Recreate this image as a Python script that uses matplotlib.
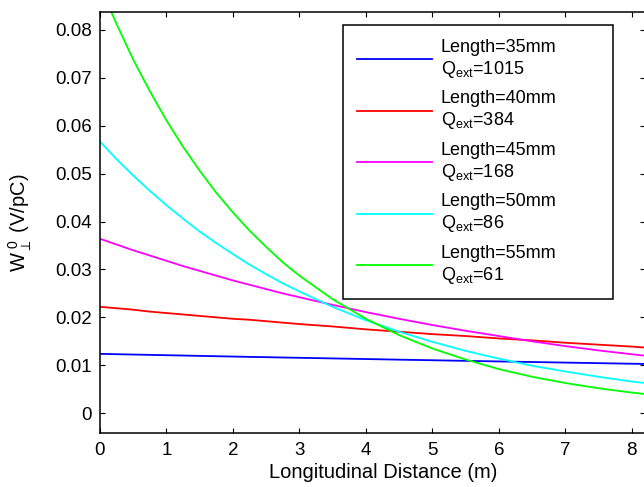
import matplotlib
matplotlib.use("Agg")
import matplotlib.pyplot as plt

plt.rcParams["font.family"] = ["Liberation Sans", "DejaVu Sans"]
plt.rcParams["mathtext.fontset"] = "custom"
plt.rcParams["mathtext.rm"] = "Liberation Sans"
plt.rcParams["mathtext.it"] = "Liberation Sans"

# Longitudinal distance (m)
distance = [0, 0.25, 0.5, 0.75, 1.0, 1.25, 1.5, 1.75, 2.0, 2.25, 2.5, 2.75, 3.0,
            3.5, 4.0, 4.5, 5.0, 5.5, 6.0, 6.5, 7.0, 7.5, 8.0, 8.2]

# Wake potential (V/pC)
w_35mm = [0.01238, 0.01231, 0.01224, 0.01217, 0.01210, 0.01203, 0.01196, 0.01189,
          0.01182, 0.01175, 0.01169, 0.01162, 0.01156, 0.01143, 0.01130, 0.01117,
          0.01105, 0.01092, 0.01080, 0.01068, 0.01056, 0.01044, 0.01032, 0.01028]
w_40mm = [0.0222, 0.0219, 0.0216, 0.0212, 0.0209, 0.0206, 0.0203, 0.0200, 0.0197,
          0.0195, 0.0192, 0.0189, 0.0186, 0.0181, 0.0175, 0.0170, 0.0165, 0.0161,
          0.0156, 0.0152, 0.0147, 0.0143, 0.0139, 0.0137]
w_45mm = [0.0364, 0.0352, 0.0340, 0.0329, 0.0318, 0.0307, 0.0297, 0.0287, 0.0277,
          0.0268, 0.0259, 0.0250, 0.0242, 0.0226, 0.0211, 0.0197, 0.0184, 0.0172,
          0.0161, 0.0150, 0.0140, 0.0131, 0.0123, 0.0120]
w_50mm = [0.0567, 0.0530, 0.0496, 0.0464, 0.0434, 0.0406, 0.0379, 0.0355, 0.0332,
          0.0310, 0.0290, 0.0271, 0.0254, 0.0222, 0.0194, 0.0170, 0.0149, 0.0130,
          0.0114, 0.0099, 0.0087, 0.0076, 0.0066, 0.0063]
w_55mm = [0.0892, 0.0812, 0.0738, 0.0672, 0.0611, 0.0556, 0.0506, 0.0460, 0.0419,
          0.0381, 0.0347, 0.0315, 0.0287, 0.0238, 0.0197, 0.0163, 0.0135, 0.0112,
          0.0092, 0.0076, 0.0063, 0.0052, 0.0043, 0.0040]

lengths = ["35mm", "40mm", "45mm", "50mm", "55mm"]
q_ext = ["1015", "384", "168", "86", "61"]
colors = ["#0000ff", "#ff0000", "#ff00ff", "#00ffff", "#00ff00"]

y_ticks = [0, 0.01, 0.02, 0.03, 0.04, 0.05, 0.06, 0.07, 0.08]
y_tick_labels = ["0", "0.01", "0.02", "0.03", "0.04", "0.05", "0.06", "0.07", "0.08"]
x_ticks = [0, 1, 2, 3, 4, 5, 6, 7, 8]

fig = plt.figure(figsize=(6.44, 4.87), dpi=100)
ax = fig.add_axes([100 / 644, 1 - 433.3 / 487, 545 / 644, 421.6 / 487])

series = [w_35mm, w_40mm, w_45mm, w_50mm, w_55mm]
for w, length, q, c in zip(series, lengths, q_ext, colors):
    ax.plot(distance, w, color=c, linewidth=1.3,
            label="Length=" + length + "\nQ$_{\\mathrm{ext}}$=" + q)

ax.set_xlim(0, 8.2)
ax.set_ylim(-0.0042, 0.0838)
ax.set_xticks(x_ticks)
ax.set_yticks(y_ticks)
ax.set_yticklabels(y_tick_labels)
ax.tick_params(direction="in", top=True, right=True, length=3.5, width=0.8,
               labelsize=13.5, pad=6)
for s in ax.spines.values():
    s.set_linewidth(1.1)

ax.set_xlabel("Longitudinal Distance (m)", fontsize=14.5)
ax.xaxis.set_label_coords(0.52, -0.07)
ax.set_ylabel("W$^{\\ 0}_{\\perp}$ (V/pC)", fontsize=14.5)
ax.yaxis.set_label_coords(-0.121, 0.5)

leg = ax.legend(loc="upper left", bbox_to_anchor=(0.446, 0.321, 0.495, 0.647),
                mode="expand", borderaxespad=0, fontsize=13, handlelength=4.2,
                handletextpad=0.45, labelspacing=0.58, borderpad=0.75,
                fancybox=False, edgecolor="black", framealpha=1)
leg.get_frame().set_linewidth(1.1)

fig.savefig("out.png", dpi=100)
